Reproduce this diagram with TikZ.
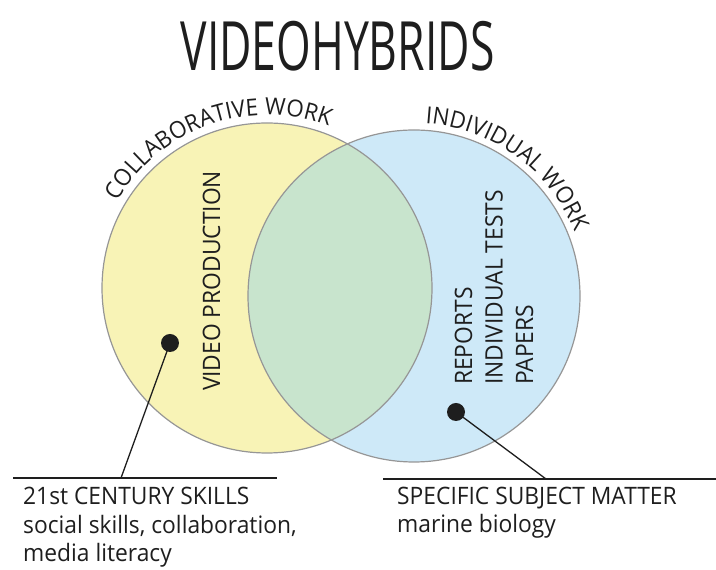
\documentclass[tikz,border=0pt]{standalone}
\usepackage{fontspec}
\setmainfont{Open Sans}[FakeStretch=0.95]
\newfontfamily\titlefont{Open Sans}[FakeStretch=0.654]
\usepackage{tikz}
\usetikzlibrary{positioning,decorations.text}
\definecolor{venyellow}{RGB}{248,243,182}
\definecolor{venblue}{RGB}{206,233,248}
\definecolor{vengreen}{RGB}{200,228,205}
\definecolor{venline}{RGB}{150,150,150}
\definecolor{ink}{RGB}{30,30,30}
\tikzset{
  rim/.style={draw=venline,line width=1.2pt},
  dot/.style={circle,fill=ink,inner sep=0pt,minimum size=18pt},
  lead/.style={draw=ink,line width=1.3pt},
  rule/.style={draw=ink,line width=1.5pt},
  lbl/.style={text=ink,inner sep=0pt,font=\fontsize{24}{28.5}\selectfont},
  bigtxt/.style={text=ink,inner sep=0pt,font=\fontsize{24}{30.5}\selectfont},
}
\newcommand\arcfont{\fontsize{23.5}{23.5}\selectfont}

\begin{document}
\begin{tikzpicture}[x=1pt,y=1pt]
\useasboundingbox (0,0) rectangle (716,570);
\coordinate (L) at (267,282);
\coordinate (R) at (414,274);
\fill[venyellow] (L) circle (165);
\fill[venblue] (R) circle (166);
\begin{scope}
\clip (L) circle (165);
\fill[vengreen] (R) circle (166);
\end{scope}
\draw[rim] (L) circle (165);
\draw[rim] (R) circle (166);

\node[text=ink,inner sep=0pt,font=\titlefont\fontsize{68}{68}\selectfont,anchor=base] (title) at (337.5,499) {VIDEOHYBRIDS};

\path[decorate,decoration={text along path,text align=center,
  text={|\arcfont\color{ink}|COLLABORATIVE WORK}}]
  (L) ++(159.5:173) arc (159.5:59.5:173);
\path[decorate,decoration={text along path,text align=center,
  text={|\arcfont\color{ink}|INDIVIDUAL WORK}}]
  (R) ++(100:173) arc (100:8:173);

\node[bigtxt,rotate=90,anchor=base] (video) at (220,289) {VIDEO PRODUCTION};
\node[bigtxt,rotate=90,anchor=base west,align=left] (tasks) at (533,185) {REPORTS\\INDIVIDUAL TESTS\\PAPERS};

\node[dot] (ldot) at (170,227) {};
\node[dot] (rdot) at (456,158) {};
\coordinate (lfoot) at (121,92);
\coordinate (rfoot) at (546,91);
\coordinate (lstart) at (13,92);
\coordinate (lend) at (277,92);
\coordinate (rstart) at (383,91);
\coordinate (rend) at (716,91);
\draw[lead] (ldot.center) -- (lfoot);
\draw[lead] (rdot.center) -- (rfoot);
\draw[rule] (lstart) -- (lend);
\draw[rule] (rstart) -- (rend);

\node[lbl,anchor=base west,align=left] (skills) at (23,8) {21st CENTURY SKILLS\\social skills, collaboration,\\media literacy};
\node[lbl,anchor=base west,align=left] (subject) at (397,37) {SPECIFIC SUBJECT MATTER\\marine biology};
\end{tikzpicture}
\end{document}
